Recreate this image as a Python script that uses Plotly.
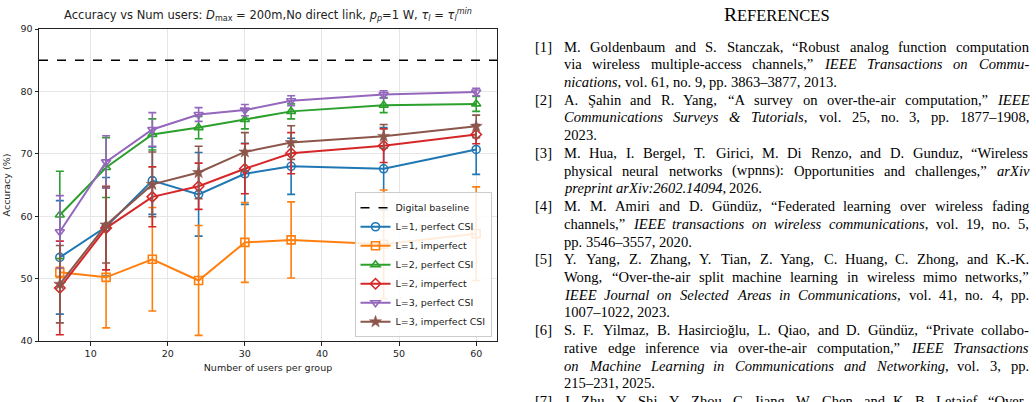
import re
import plotly.graph_objects as go

# ---------------- data ----------------
users = [6, 12, 18, 24, 30, 36, 48, 60]

l1_perfect = [53.4, 58.3, 65.7, 63.5, 66.8, 68.0, 67.6, 70.7]
l1_perfect_err = [9.1, 7.9, 5.4, 6.7, 4.9, 4.5, 6.6, 4.0]
l1_imperfect = [51.0, 50.2, 53.1, 49.7, 55.8, 56.2, 55.5, 57.2]
l1_imperfect_err = [0.8, 8.1, 8.3, 8.8, 6.4, 6.1, 8.7, 7.5]
l2_perfect = [60.2, 67.8, 73.1, 74.2, 75.5, 76.8, 77.8, 78.0]
l2_perfect_err = [7.0, 4.8, 2.5, 1.8, 1.5, 1.2, 1.2, 1.2]
l2_imperfect = [48.5, 58.1, 63.1, 64.8, 67.6, 70.1, 71.3, 73.1]
l2_imperfect_err = [7.5, 6.7, 4.8, 3.7, 4.0, 3.3, 2.7, 1.5]
l3_perfect = [57.5, 68.7, 73.9, 76.3, 77.0, 78.5, 79.5, 79.9]
l3_perfect_err = [5.8, 4.2, 2.7, 1.1, 0.9, 0.8, 0.6, 0.6]
l3_imperfect = [49.1, 58.6, 65.1, 67.0, 70.3, 71.8, 72.8, 74.4]
l3_imperfect_err = [6.2, 6.1, 5.2, 4.2, 3.1, 2.7, 1.9, 1.8]

digital_baseline = 85.0

series_names = ["L=1, perfect CSI", "L=1, imperfect", "L=2, perfect CSI",
                "L=2, imperfect", "L=3, perfect CSI", "L=3, imperfect CSI"]

x_ticks = [10, 20, 30, 40, 50, 60]
y_ticks = [40, 50, 60, 70, 80, 90]

title_text = ("Accuracy vs Num users: <i>D</i><sub>max</sub> = 200m,No direct link, "
              "<i>p<sub>p</sub></i>=1 W, <i>τ<sub>l</sub></i> = <i>τ<sub>l</sub></i><sup><i>min</i></sup>")

references = [
    ("[1]", ["M. Goldenbaum and S. Stanczak, “Robust analog function computation",
             "via wireless multiple-access channels,” <i>IEEE Transactions on Commu-</i>",
             "<i>nications</i>, vol. 61, no. 9, pp. 3863–3877, 2013."]),
    ("[2]", ["A. Şahin and R. Yang, “A survey on over-the-air computation,” <i>IEEE</i>",
             "<i>Communications Surveys & Tutorials</i>, vol. 25, no. 3, pp. 1877–1908,",
             "2023."]),
    ("[3]", ["M. Hua, I. Bergel, T. Girici, M. Di Renzo, and D. Gunduz, “Wireless",
             "physical neural networks (wpnns): Opportunities and challenges,” <i>arXiv</i>",
             "<i>preprint arXiv:2602.14094</i>, 2026."]),
    ("[4]", ["M. M. Amiri and D. Gündüz, “Federated learning over wireless fading",
             "channels,” <i>IEEE transactions on wireless communications</i>, vol. 19, no. 5,",
             "pp. 3546–3557, 2020."]),
    ("[5]", ["Y. Yang, Z. Zhang, Y. Tian, Z. Yang, C. Huang, C. Zhong, and K.-K.",
             "Wong, “Over-the-air split machine learning in wireless mimo networks,”",
             "<i>IEEE Journal on Selected Areas in Communications</i>, vol. 41, no. 4, pp.",
             "1007–1022, 2023."]),
    ("[6]", ["S. F. Yilmaz, B. Hasircioğlu, L. Qiao, and D. Gündüz, “Private collabo-",
             "rative edge inference via over-the-air computation,” <i>IEEE Transactions</i>",
             "<i>on Machine Learning in Communications and Networking</i>, vol. 3, pp.",
             "215–231, 2025."]),
    ("[7]", ["J. Zhu, Y. Shi, Y. Zhou, C. Jiang, W. Chen, and K. B. Letaief, “Over-"]),
]

# ---------------- figure ----------------
colors = ["#1f77b4", "#ff7f0e", "#2ca02c", "#d62728", "#9467bd", "#8c564b"]
symbols = ["circle-open", "square-open", "triangle-up-open", "diamond-open",
           "triangle-down-open", "star"]
marker_sizes = [8, 8, 8, 8, 8, 9]
marker_lw = [1.6, 1.6, 1.6, 1.6, 1.6, 0.6]
values = [l1_perfect, l1_imperfect, l2_perfect, l2_imperfect, l3_perfect, l3_imperfect]
errors = [l1_perfect_err, l1_imperfect_err, l2_perfect_err, l2_imperfect_err,
          l3_perfect_err, l3_imperfect_err]

xmin, xmax = min(users), max(users)
pad = 0.05 * (xmax - xmin)
x_range = [xmin - pad, xmax + pad]

W, H = 1036, 402
L, R, T, B = 39, 539, 29, 61
PW, PH = W - L - R, H - T - B

fig = go.Figure()
fig.add_trace(go.Scatter(x=x_range, y=[digital_baseline, digital_baseline], mode="lines",
                         line=dict(color="black", dash="dash", width=1.5),
                         name="Digital baseline", hoverinfo="skip"))
for name, c, s, ms, mlw, v, e in zip(series_names, colors, symbols, marker_sizes,
                                     marker_lw, values, errors):
    fig.add_trace(go.Scatter(
        x=users, y=v, mode="lines+markers", name=name,
        line=dict(color=c, width=2),
        marker=dict(symbol=s, size=ms, color=c, line=dict(color=c, width=mlw)),
        error_y=dict(type="data", array=e, visible=True, color=c, thickness=1.6, width=4),
    ))

def px_to_paper_x(px):
    return (px - L) / PW

def px_to_paper_y(py):
    return 1 - (py - T) / PH

# ---- Times metrics (per 1000 em) used to justify the reference lines ----
TR = {' ': 250, ',': 250, '.': 250, '-': 333, ':': 278, ';': 278, '&': 778, '(': 333, ')': 333,
      '[': 333, ']': 333, '“': 444, '”': 444, '–': 500, 'Ş': 556, 'ü': 500, 'ğ': 500,
      'A': 722, 'B': 667, 'C': 667, 'D': 722, 'E': 611, 'F': 556, 'G': 722, 'H': 722, 'I': 333,
      'J': 389, 'K': 722, 'L': 611, 'M': 889, 'N': 722, 'O': 722, 'P': 556, 'Q': 722, 'R': 667,
      'S': 556, 'T': 611, 'U': 722, 'V': 722, 'W': 944, 'X': 722, 'Y': 722, 'Z': 611,
      'a': 444, 'b': 500, 'c': 444, 'd': 500, 'e': 444, 'f': 333, 'g': 500, 'h': 500, 'i': 278,
      'j': 278, 'k': 500, 'l': 278, 'm': 778, 'n': 500, 'o': 500, 'p': 500, 'q': 500, 'r': 333,
      's': 389, 't': 278, 'u': 500, 'v': 500, 'w': 722, 'x': 500, 'y': 500, 'z': 444}
TI = {' ': 250, ',': 250, '.': 250, '-': 333, ':': 333, '&': 778,
      'A': 611, 'B': 611, 'C': 667, 'D': 722, 'E': 611, 'F': 611, 'G': 722, 'H': 722, 'I': 333,
      'J': 444, 'K': 667, 'L': 556, 'M': 833, 'N': 667, 'O': 722, 'P': 611, 'Q': 722, 'R': 611,
      'S': 500, 'T': 556, 'U': 722, 'V': 611, 'W': 833, 'X': 611, 'Y': 556, 'Z': 556,
      'a': 500, 'b': 500, 'c': 444, 'd': 500, 'e': 444, 'f': 278, 'g': 500, 'h': 500, 'i': 278,
      'j': 278, 'k': 444, 'l': 278, 'm': 722, 'n': 500, 'o': 500, 'p': 500, 'q': 500, 'r': 389,
      's': 389, 't': 278, 'u': 500, 'v': 444, 'w': 667, 'x': 444, 'y': 444, 'z': 389}

FS = 14.6
LINE_H = 17.73
X_LABEL, X0, X1 = 534, 563, 1028
Y_FIRST = 46.5
FONT_REF = "Liberation Serif, Times New Roman, serif"

def parse(line):
    chars = []
    italic = False
    for part in re.split(r"(</?i>)", line):
        if part == "<i>":
            italic = True
        elif part == "</i>":
            italic = False
        else:
            chars.extend((ch, italic) for ch in part)
    words, cur = [], []
    for ch, it in chars:
        if ch == " ":
            if cur:
                words.append(cur)
            cur = []
        else:
            cur.append((ch, it))
    if cur:
        words.append(cur)
    return words

def word_width(word):
    return sum((TI if it else TR).get(ch, 500) for ch, it in word) / 1000 * FS

def word_html(word):
    out, cur_it = "", False
    for ch, it in word:
        if it and not cur_it:
            out += "<i>"
        if not it and cur_it:
            out += "</i>"
        cur_it = it
        out += "&amp;" if ch == "&" else ch
    if cur_it:
        out += "</i>"
    return out

annotations = []
row = 0
for ref_i, (label, lines) in enumerate(references):
    n_lines = len(lines)
    continues = ref_i == len(references) - 1  # last entry is cut by the page edge
    for li, line in enumerate(lines):
        py = Y_FIRST + row * LINE_H
        if li == 0:
            annotations.append(dict(text=label, x=px_to_paper_x(X_LABEL), y=px_to_paper_y(py),
                                    xref="paper", yref="paper", xanchor="left", yanchor="middle",
                                    showarrow=False, borderpad=0,
                                    font=dict(family=FONT_REF, size=FS, color="black")))
        words = parse(line)
        widths = [word_width(w) for w in words]
        last = (li == n_lines - 1) and not continues
        if last or len(words) == 1:
            gap = TR[' '] / 1000 * FS
        else:
            gap = (X1 - X0 - sum(widths)) / (len(words) - 1)
        x = X0
        for w, wd in zip(words, widths):
            annotations.append(dict(text=word_html(w), x=px_to_paper_x(x), y=px_to_paper_y(py),
                                    xref="paper", yref="paper", xanchor="left", yanchor="middle",
                                    showarrow=False, borderpad=0,
                                    font=dict(family=FONT_REF, size=FS, color="black")))
            x += wd + gap
        row += 1

annotations.append(dict(
    text="R<span style='font-size:16.5px'>EFERENCES</span>",
    x=px_to_paper_x(777), y=px_to_paper_y(15), xref="paper", yref="paper",
    xanchor="center", yanchor="middle", showarrow=False,
    font=dict(family=FONT_REF, size=19.5, color="black")))

fig.update_layout(
    width=W, height=H,
    margin=dict(l=L, r=R, t=T, b=B, autoexpand=False),
    paper_bgcolor="white", plot_bgcolor="white",
    font=dict(family="DejaVu Sans", size=9.5, color="#222"),
    title=dict(text=title_text, x=(L + PW / 2) / W,
               xanchor="center", y=1 - 15 / H, yanchor="middle",
               font=dict(family="DejaVu Sans", size=11.5, color="#222")),
    xaxis=dict(range=x_range, tickvals=x_ticks, showgrid=True, gridcolor="#e6e6e6", gridwidth=0.8,
               showline=True, linecolor="#222", linewidth=1, mirror=True,
               ticks="outside", ticklen=3.5, tickcolor="#222", zeroline=False,
               title=dict(text="Number of users per group", standoff=6,
                          font=dict(size=9.5))),
    yaxis=dict(range=[40, 90], tickvals=y_ticks, showgrid=True, gridcolor="#e6e6e6", gridwidth=0.8,
               showline=True, linecolor="#222", linewidth=1, mirror=True,
               ticks="outside", ticklen=3.5, tickcolor="#222", zeroline=False,
               title=dict(text="Accuracy (%)", standoff=8, font=dict(size=9.5))),
    legend=dict(x=0.988, y=0.012, xanchor="right", yanchor="bottom",
                bgcolor="rgba(255,255,255,0.85)", bordercolor="#cccccc", borderwidth=1,
                font=dict(family="DejaVu Sans", size=9.5, color="#222"),
                tracegroupgap=0, itemwidth=30),
    annotations=annotations,
    showlegend=True,
)

fig.write_html("out.html")
